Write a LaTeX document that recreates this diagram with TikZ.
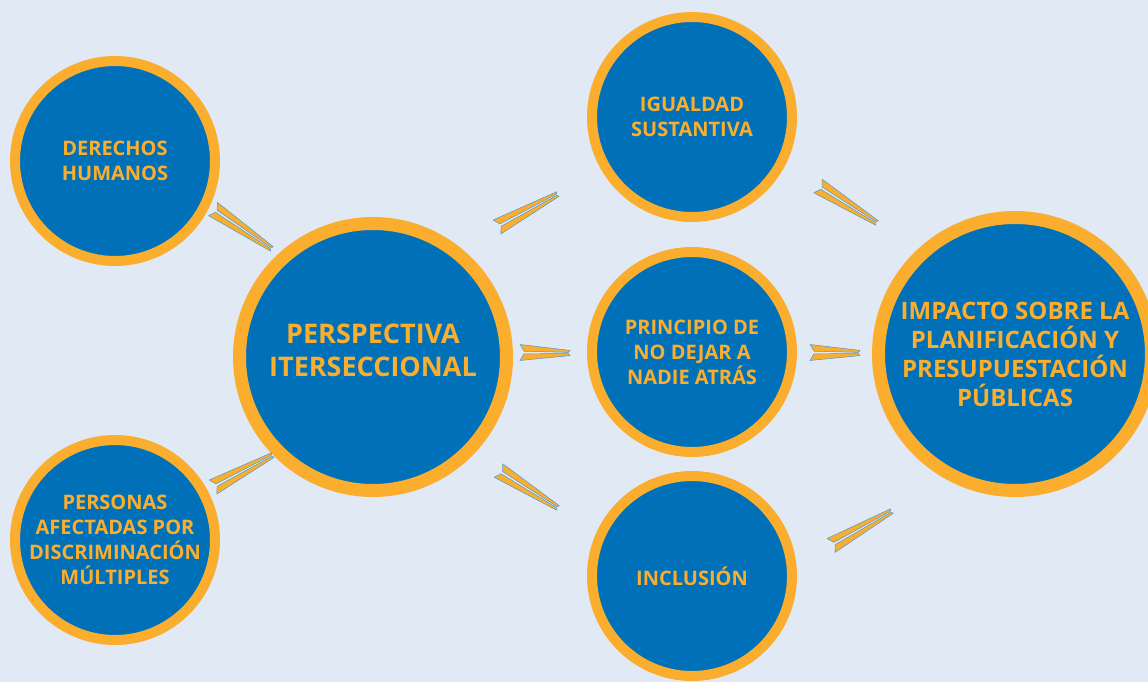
\documentclass[tikz,border=0pt]{standalone}
\usepackage{fontspec}
\setmainfont{Open Sans}
\usepackage{tikz}
\usetikzlibrary{calc}

\definecolor{bgblue}{HTML}{E1E9F5}
\definecolor{discblue}{HTML}{0071B9}
\definecolor{ringorange}{HTML}{FBAE2D}
\definecolor{edgeblue}{HTML}{4A9AD0}

% wedge connector: two blades with a thin gap, narrowing to the tip
\newcommand{\wedgearrow}[2]{%
  \filldraw[blade] ($(#1)!8pt!90:(#2)$) -- ($(#2)!2.6pt!-90:(#1)$) -- ($($(#2)!1.5pt!(#1)$)!0.6pt!-90:(#1)$) -- ($($(#1)!4pt!(#2)$)!1.3pt!90:(#2)$) -- cycle;
  \filldraw[blade] ($(#1)!8pt!-90:(#2)$) -- ($(#2)!2.6pt!90:(#1)$) -- ($($(#2)!1.5pt!(#1)$)!0.6pt!90:(#1)$) -- ($($(#1)!4pt!(#2)$)!1.3pt!-90:(#2)$) -- cycle;
}

\begin{document}
\begin{tikzpicture}[
    x=1pt, y=-1pt,
    disc/.style={circle, draw=ringorange, fill=discblue, line width=10pt, minimum size=200pt, inner sep=0pt, align=center, text=ringorange, font=\bfseries\fontsize{20}{25}\selectfont},
    bigdisc/.style={disc, line width=13pt},
    blade/.style={fill=ringorange, draw=edgeblue, line width=0.5pt, line join=round}
]
\useasboundingbox (0,0) rectangle (1148,682);
\fill[bgblue] (0,0) rectangle (1148,682);

\node[disc] (derechos) at (115,161) {DERECHOS\\HUMANOS};
\node[disc] (personas) at (115,540) {PERSONAS\\AFECTADAS POR\\DISCRIMINACIÓN\\MÚLTIPLES};
\node[bigdisc, minimum size=267pt, font=\bfseries\fontsize{27}{33}\selectfont, text depth=14pt] (perspectiva) at (373,357) {PERSPECTIVA\\ITERSECCIONAL};
\node[disc] (igualdad) at (692,117) {IGUALDAD\\SUSTANTIVA};
\node[disc] (principio) at (692,352) {PRINCIPIO DE\\NO DEJAR A\\NADIE ATRÁS};
\node[disc] (inclusion) at (692,576) {INCLUSIÓN};
\node[bigdisc, minimum size=273pt, font=\bfseries\fontsize{24}{29}\selectfont] (impacto) at (1015,354) {IMPACTO SOBRE LA\\PLANIFICACIÓN Y\\PRESUPUESTACIÓN\\PÚBLICAS};

% wedge ends
\coordinate (w1a) at (213,209); \coordinate (w1b) at (272,249);
\coordinate (w2a) at (213,487); \coordinate (w2b) at (273,455);
\coordinate (w3a) at (497,227); \coordinate (w3b) at (558,194);
\coordinate (w4a) at (520,352.5); \coordinate (w4b) at (570,353);
\coordinate (w5a) at (498.5,470.5); \coordinate (w5b) at (558,508);
\coordinate (w6a) at (818,186); \coordinate (w6b) at (877,223);
\coordinate (w7a) at (810,352.5); \coordinate (w7b) at (860,353);
\coordinate (w8a) at (831,545.5); \coordinate (w8b) at (892,511);

\wedgearrow{w1a}{w1b}
\wedgearrow{w2a}{w2b}
\wedgearrow{w3a}{w3b}
\wedgearrow{w4a}{w4b}
\wedgearrow{w5a}{w5b}
\wedgearrow{w6a}{w6b}
\wedgearrow{w7a}{w7b}
\wedgearrow{w8a}{w8b}
\end{tikzpicture}
\end{document}
